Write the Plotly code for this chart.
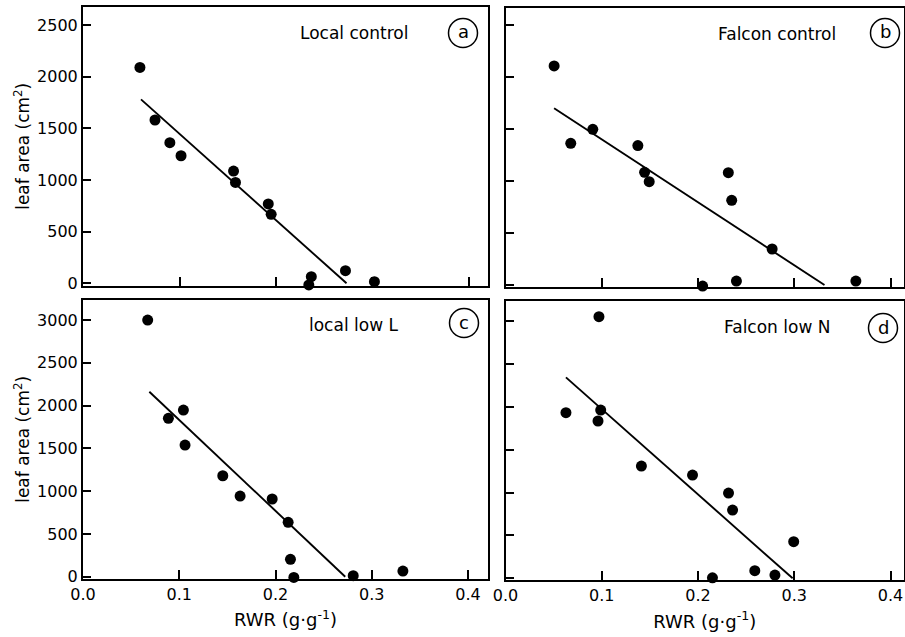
import plotly.graph_objects as go

W, H = 905, 637

# ---- data (RWR in g/g, leaf area in cm2) ----
a_rwr = [0.059, 0.0746, 0.090, 0.1016, 0.156, 0.158, 0.192, 0.195, 0.2366, 0.234, 0.272, 0.302]
a_area = [2090, 1581, 1361, 1235, 1087, 977, 768, 668, 64, -16, 122, 16]
a_fit_rwr = [0.0601, 0.2731]
a_fit_area = [1781, 0]

b_rwr = [0.0505, 0.0678, 0.0907, 0.1375, 0.1445, 0.1493, 0.2315, 0.235, 0.277, 0.2048, 0.2399, 0.364]
b_area = [2106, 1362, 1497, 1340, 1083, 993, 1080, 814, 346, -10, 38, 38]
b_fit_rwr = [0.0505, 0.3314]
b_fit_area = [1699, 0]

c_rwr = [0.0672, 0.0887, 0.1043, 0.106, 0.1452, 0.1632, 0.1965, 0.2131, 0.2155, 0.219, 0.2807, 0.3323]
c_area = [3000, 1851, 1948, 1539, 1180, 943, 908, 636, 203, -8, 12, 66]
c_fit_rwr = [0.0689, 0.2724]
c_fit_area = [2162, 0]

d_rwr = [0.0971, 0.0628, 0.0989, 0.0961, 0.1412, 0.1943, 0.2317, 0.2359, 0.2994, 0.259, 0.2799, 0.215]
d_area = [3050, 1931, 1962, 1834, 1309, 1204, 994, 796, 427, 89, 38, 5]
d_fit_rwr = [0.0628, 0.2983]
d_fit_area = [2343, 0]

panel_names = ["Local control", "Falcon control", "local low L", "Falcon low N"]
panel_letters = ["a", "b", "c", "d"]
x_ticks = [0.0, 0.1, 0.2, 0.3, 0.4]
x_ticklabels = ["0.0", "0.1", "0.2", "0.3", "0.4"]
y_ticks_top = [0, 500, 1000, 1500, 2000, 2500]
y_ticks_bottom = [0, 500, 1000, 1500, 2000, 2500, 3000]

FONT = "DejaVu Sans"

# plot areas in pixels: (left, right, top, y-pixel of zero)
boxes = [
    (83, 488, 7, 283.3),
    (505.5, 904, 8, 285),
    (83, 488, 300, 576.7),
    (505.5, 904, 301, 578.3),
]
x_ranges = [[0, 0.4197], [0, 0.414], [0, 0.4207], [0, 0.414]]
y_tops = [2675, 2663, 3234, 3233]
y_bottom = -22

series = [
    (a_rwr, a_area, a_fit_rwr, a_fit_area),
    (b_rwr, b_area, b_fit_rwr, b_fit_area),
    (c_rwr, c_area, c_fit_rwr, c_fit_area),
    (d_rwr, d_area, d_fit_rwr, d_fit_area),
]

fig = go.Figure()

for i, (xs, ys, fx, fy) in enumerate(series):
    sfx = "" if i == 0 else str(i + 1)
    xa, ya = "x" + sfx, "y" + sfx
    fig.add_trace(go.Scatter(x=fx, y=fy, mode="lines", xaxis=xa, yaxis=ya,
                             line=dict(color="black", width=1.9),
                             showlegend=False, hoverinfo="skip"))
    fig.add_trace(go.Scatter(x=xs, y=ys, mode="markers", xaxis=xa, yaxis=ya,
                             marker=dict(color="black", size=11),
                             cliponaxis=False, showlegend=False))

layout = dict(width=W, height=H, margin=dict(l=0, r=0, t=0, b=0),
              paper_bgcolor="white", plot_bgcolor="white",
              font=dict(family=FONT, color="black", size=16),
              showlegend=False)

for i in range(4):
    L, R, T, Z = boxes[i]
    sfx = "" if i == 0 else str(i + 1)
    xkey, ykey = "xaxis" + sfx, "yaxis" + sfx
    bottom_row = i >= 2
    left_col = i % 2 == 0
    top_val = y_tops[i]
    ppu = (Z - T) / top_val
    B = Z + (-y_bottom) * ppu
    layout[xkey] = dict(domain=[L / W, R / W], range=x_ranges[i], anchor="y" + sfx,
                        tickvals=x_ticks, ticktext=x_ticklabels,
                        showticklabels=bottom_row, ticks="inside", ticklen=9,
                        tickwidth=1.5, tickcolor="black",
                        showline=True, linecolor="black", linewidth=2, mirror=True,
                        showgrid=False, zeroline=False, automargin=False,
                        tickfont=dict(size=16, family=FONT))
    layout[ykey] = dict(domain=[1 - B / H, 1 - T / H], range=[y_bottom, top_val], anchor="x" + sfx,
                        tickvals=y_ticks_bottom if bottom_row else y_ticks_top,
                        showticklabels=left_col, ticks="inside", ticklen=8,
                        tickwidth=1.5, tickcolor="black",
                        showline=True, linecolor="black", linewidth=2, mirror=True,
                        showgrid=False, zeroline=False, automargin=False,
                        tickfont=dict(size=16, family=FONT))
    if bottom_row:
        layout[xkey]["title"] = dict(text="RWR (g·g<sup>-1</sup>)", font=dict(size=18, family=FONT),
                                     standoff=11)
    if left_col:
        layout[ykey]["title"] = dict(text="leaf area (cm<sup>2</sup>)", font=dict(size=17, family=FONT),
                                     standoff=3)

fig.update_layout(**layout)

# panel labels
name_pos = [(354, 33), (776.5, 34), (353.5, 325), (776.5, 327)]
circ_pos = [(463, 33), (885, 33), (464, 323), (883, 328)]
r = 14.5
for i in range(4):
    nx, ny = name_pos[i]
    fig.add_annotation(x=nx / W, y=1 - ny / H, xref="paper", yref="paper",
                       text=panel_names[i], showarrow=False,
                       font=dict(size=17, family=FONT), xanchor="center", yanchor="middle")
    cx, cy = circ_pos[i]
    fig.add_shape(type="circle", xref="paper", yref="paper",
                  x0=(cx - r) / W, x1=(cx + r) / W, y0=1 - (cy + r) / H, y1=1 - (cy - r) / H,
                  line=dict(color="black", width=1.5))
    fig.add_annotation(x=cx / W, y=1 - (cy - 1) / H, xref="paper", yref="paper",
                       text=panel_letters[i], showarrow=False,
                       font=dict(size=18, family=FONT), xanchor="center", yanchor="middle")

fig.write_html("out.html")
